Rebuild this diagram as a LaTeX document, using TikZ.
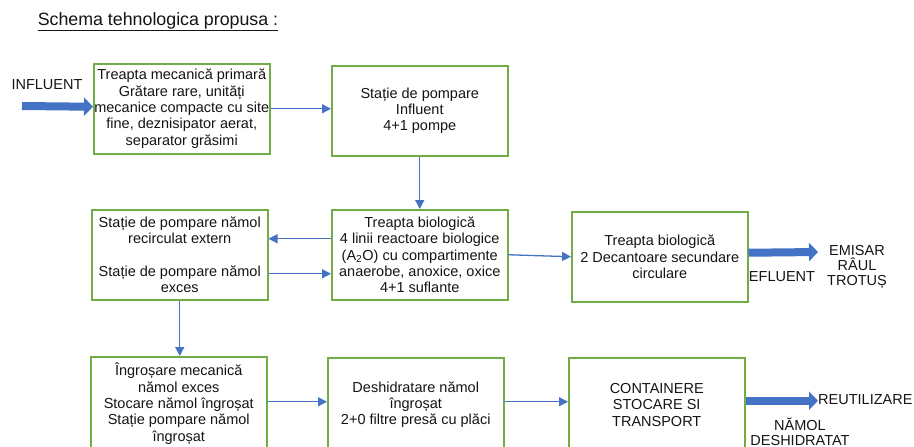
\documentclass[tikz,border=0pt]{standalone}
\usepackage{fontspec}
\setmainfont{Liberation Sans}
\usetikzlibrary{arrows.meta}
\definecolor{boxgreen}{RGB}{112,173,71}
\definecolor{arrblue}{RGB}{68,114,196}
\definecolor{txt}{RGB}{20,20,20}
\begin{document}
\begin{tikzpicture}[x=1pt,y=-1pt,
  box/.style={draw=boxgreen, line width=1.5pt, anchor=north west, minimum width=176pt, minimum height=90pt, inner sep=0pt, align=center, font=\fontsize{14.5}{16.3}\selectfont, text=txt},
  tallbox/.style={box, minimum height=94pt},
  thinarrow/.style={draw=arrblue, line width=1.3pt, -{Triangle[length=9pt,width=9pt]}},
  thickarrow/.style={draw=arrblue, line width=8pt, -{Triangle[length=9pt,width=18pt]}},
  lbl/.style={font=\fontsize{14.5}{15}\selectfont, text=txt, align=center, inner sep=0pt}]
\useasboundingbox (0,0) rectangle (914,447);
\clip (0,0) rectangle (914,447);

\node[lbl, font=\fontsize{17.8}{19}\selectfont] (title) at (158,22) {\underline{Schema tehnologica propusa :}};

\node[box] (b1) at (93,63) {Treapta mecanică primară\\Grătare rare, unități\\mecanice compacte cu site\\fine, deznisipator aerat,\\separator grăsimi};
\node[box] (b2) at (331,65) {Stație de pompare\\Influent\\4+1 pompe};
\node[box] (b3) at (331,209) {Treapta biologică\\4 linii reactoare biologice\\(A\textsubscript{2}O) cu compartimente\\anaerobe, anoxice, oxice\\4+1 suflante};
\node[box] (b4) at (91,209) {Stație de pompare nămol\\recirculat extern\\[16pt]Stație de pompare nămol\\exces};
\node[box] (b5) at (571,211) {Treapta biologică\\2 Decantoare secundare\\circulare};
\node[tallbox] (b6) at (90,356) {Îngroșare mecanică\\nămol exces\\Stocare nămol îngroșat\\Stație pompare nămol\\îngroșat};
\node[tallbox] (b7) at (327,357) {Deshidratare nămol\\îngroșat\\2+0 filtre presă cu plăci};
\node[tallbox] (b8) at (568,357) {CONTAINERE\\STOCARE SI\\TRANSPORT};

\node[lbl] (influent) at (47,85) {INFLUENT};
\node[lbl] (emisar) at (857,267) {EMISAR\\RÂUL\\TROTUȘ};
\node[lbl] (efluent) at (782,277) {EFLUENT};
\node[lbl, anchor=west] (reutil) at (818,400) {REUTILIZARE};
\node[lbl] (namol) at (800,432) {NĂMOL\\DESHIDRATAT};

\coordinate (inflstart) at (22,106);
\coordinate (efend) at (818,252);

\draw[thickarrow] (inflstart) -- ([yshift=2pt]b1.west);
\draw[thinarrow] (b1.east) -- (b1.east -| b2.west);
\draw[thinarrow] (b2.south) -- (b3.north);
\draw[thinarrow] ([yshift=16pt]b3.west) -- ([yshift=16pt]b4.east);
\draw[thinarrow] ([yshift=-19pt]b4.east) -- ([yshift=-19pt]b3.west);
\draw[thinarrow] (b3.east) -- (b5.west);
\draw[thickarrow] ([yshift=4pt]b5.east) -- (efend);
\draw[thinarrow] (b4.south) -- (b4.south |- b6.north);
\draw[thinarrow] ([yshift=2pt]b6.east) -- ([yshift=2pt]b6.east -| b7.west);
\draw[thinarrow] ([yshift=3pt]b7.east) -- ([yshift=3pt]b7.east -| b8.west);
\draw[thickarrow] ([yshift=4pt]b8.east) -- ([yshift=4pt]b8.east -| reutil.west);
\end{tikzpicture}
\end{document}
